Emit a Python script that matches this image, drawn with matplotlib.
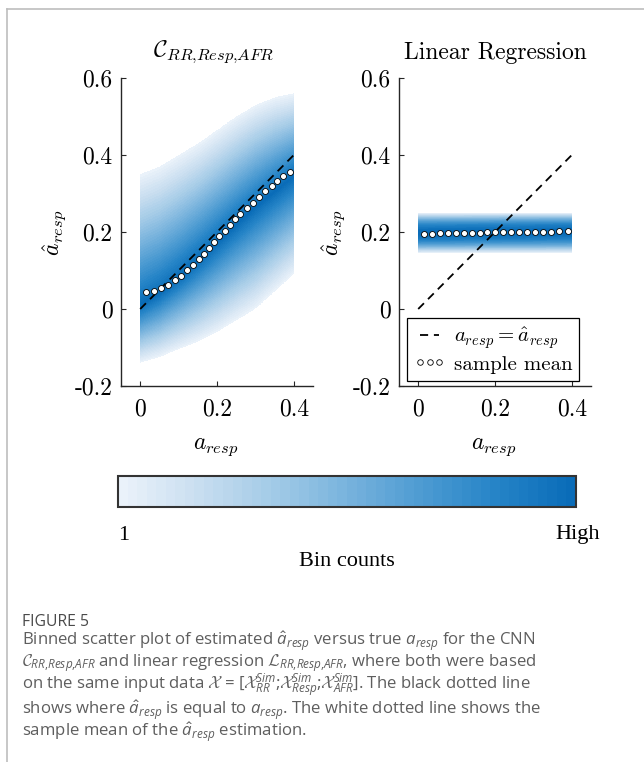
import numpy as np
import matplotlib.pyplot as plt
from matplotlib.colors import LinearSegmentedColormap, LogNorm
from matplotlib.cm import ScalarMappable
from matplotlib.lines import Line2D

plt.rcParams['mathtext.fontset'] = 'custom'
plt.rcParams['mathtext.rm'] = 'Open Sans'
plt.rcParams['mathtext.it'] = 'Open Sans:italic'
plt.rcParams['mathtext.bf'] = 'Open Sans:bold'
plt.rcParams['mathtext.cal'] = 'cmsy10'

# --- sample means (white dots) ---
cnn_x = [0.015, 0.035, 0.054, 0.073, 0.091, 0.106, 0.122, 0.138, 0.152, 0.166,
         0.180, 0.193, 0.206, 0.220, 0.233, 0.248, 0.261, 0.279, 0.295, 0.310,
         0.326, 0.342, 0.357, 0.373, 0.389]
cnn_mean = [0.043, 0.048, 0.055, 0.062, 0.075, 0.087, 0.101, 0.114, 0.129, 0.143,
            0.158, 0.174, 0.190, 0.203, 0.219, 0.234, 0.248, 0.262, 0.276, 0.292,
            0.306, 0.319, 0.332, 0.345, 0.356]
lr_x = [0.016, 0.036, 0.057, 0.078, 0.099, 0.120, 0.139, 0.160, 0.180, 0.201,
        0.222, 0.241, 0.262, 0.283, 0.303, 0.324, 0.345, 0.366, 0.389]
lr_mean = [0.196, 0.196, 0.197, 0.197, 0.197, 0.198, 0.198, 0.198, 0.199, 0.199,
           0.199, 0.200, 0.200, 0.200, 0.201, 0.201, 0.201, 0.202, 0.202]

# --- binned density (ridge, visible lower / upper edge) ---
cnn_knot_x = [0.0, 0.05, 0.1, 0.15, 0.2, 0.25, 0.3, 0.35, 0.4]
cnn_ridge = [0.01, 0.04, 0.08, 0.125, 0.172, 0.22, 0.265, 0.305, 0.345]
cnn_lo = [-0.14, -0.125, -0.105, -0.085, -0.06, -0.03, 0.0, 0.045, 0.09]
cnn_hi = [0.35, 0.37, 0.40, 0.43, 0.465, 0.50, 0.53, 0.55, 0.56]
lr_knot_x = [0.0, 0.4]
lr_ridge = [0.198, 0.202]
lr_lo = [0.146, 0.146]
lr_hi = [0.25, 0.25]
cnn_shape, lr_shape = 0.92, 1.8

identity = [0.0, 0.4]
yticks = [-0.2, 0, 0.2, 0.4, 0.6]
ytick_labels = ['-0.2', '0', '0.2', '0.4', '0.6']
xticks = [0, 0.2, 0.4]
xtick_labels = ['0', '0.2', '0.4']

cmap = LinearSegmentedColormap.from_list(
    'bins', ['#eaf2fa', '#c9def0', '#a3cbe7', '#78b3dd', '#4d9bd2', '#2584c7', '#0a6cb8'], N=48)
peak = 4000.0
norm = LogNorm(vmin=1, vmax=peak)


def density(knot_x, ridge, lo, hi, shape):
    xs = np.linspace(0, 0.4, 240)
    ys = np.linspace(-0.2, 0.6, 900)
    X, Y = np.meshgrid(xs, ys)
    r = np.interp(X, knot_x, ridge)
    d = Y - r
    edge = np.where(d > 0, np.interp(X, knot_x, hi) - r, r - np.interp(X, knot_x, lo))
    c = peak ** (1 - (np.abs(d) / edge) ** shape)
    return np.ma.masked_less(c, 1.0)


fig = plt.figure(figsize=(6.44, 7.62), dpi=100)
W, H = 644.0, 762.0

panels = [
    (121, cnn_knot_x, cnn_ridge, cnn_lo, cnn_hi, cnn_shape, cnn_x, cnn_mean),
    (399, lr_knot_x, lr_ridge, lr_lo, lr_hi, lr_shape, lr_x, lr_mean),
]
axes = []
for left, kx, rd, lo, hi, sh, mx, mm in panels:
    ax = fig.add_axes([left / W, 1 - 386 / H, 192 / W, 308 / H])
    ax.imshow(density(kx, rd, lo, hi, sh), extent=[0, 0.4, -0.2, 0.6], origin='lower',
              aspect='auto', cmap=cmap, norm=norm, interpolation='nearest', zorder=1)
    ax.plot(identity, identity, color='black', lw=1.3, dashes=(4.5, 3.2), zorder=2)
    ax.plot(mx, mm, 'o', ms=4.3, mfc='white', mec='black', mew=0.6, ls='none', zorder=3)
    ax.set_xlim(-0.05, 0.45)
    ax.set_ylim(-0.2, 0.6)
    ax.set_xticks(xticks)
    ax.set_xticklabels(xtick_labels, fontfamily='cmr10', fontsize=17)
    ax.set_yticks(yticks)
    ax.set_yticklabels(ytick_labels, fontfamily='cmr10', fontsize=17)
    ax.tick_params(direction='in', length=3.5, width=0.8, color='#262626')
    ax.tick_params(axis='y', pad=6)
    ax.tick_params(axis='x', pad=9)
    for s in ['top', 'right']:
        ax.spines[s].set_visible(False)
    for s in ['left', 'bottom']:
        ax.spines[s].set_color('#262626')
        ax.spines[s].set_linewidth(1.0)
    axes.append(ax)

# titles and labels
fig.text(214 / W, 1 - 52 / H, r'$\mathcal{C}_{RR{,}Resp{,}AFR}$', math_fontfamily='cm',
         fontsize=17, ha='center', va='center')
fig.text(495 / W, 1 - 53 / H, 'Linear Regression', fontfamily='cmr10',
         fontsize=17, ha='center', va='center')
for xc in [216, 494]:
    fig.text(xc / W, 1 - 446 / H, r'$a_{resp}$', math_fontfamily='cm',
             fontsize=17, ha='center', va='center')
for xr in [69, 348]:
    fig.text(xr / W, 1 - 233 / H, r'$\hat{a}_{resp}$', math_fontfamily='cm',
             fontsize=17, ha='right', va='center', rotation=90)

# legend
handles = [Line2D([], [], color='black', lw=1.3, dashes=(4.5, 3.2)),
           Line2D([], [], marker='o', ms=4.0, mfc='white', mec='black', mew=0.6, ls='none')]
leg = axes[1].legend(handles, [r'$a_{resp} = \hat{a}_{resp}$', 'sample mean'],
                     loc='lower right', bbox_to_anchor=(0.94, 0.016), borderaxespad=0,
                     numpoints=3, handlelength=1.5, handletextpad=0.4, borderpad=0.35,
                     labelspacing=0.2, fancybox=False, framealpha=1,
                     edgecolor='black', prop={'family': 'cmr10', 'size': 15})
leg.get_frame().set_linewidth(0.9)
for t in leg.get_texts():
    t.set_math_fontfamily('cm')

# colorbar
cax = fig.add_axes([118 / W, 1 - 507 / H, 458 / W, 31 / H])
cb = fig.colorbar(ScalarMappable(norm=LogNorm(1, 1000), cmap=cmap), cax=cax,
                  orientation='horizontal')
cb.set_ticks([])
cb.minorticks_off()
cb.outline.set_linewidth(1.5)
cb.outline.set_edgecolor('#333333')
fig.text(118 / W, 1 - 535 / H, '1', fontfamily='Liberation Serif', fontsize=16,
         ha='left', va='center')
fig.text(600 / W, 1 - 535 / H, 'High', fontfamily='Liberation Serif', fontsize=16,
         ha='right', va='center')
fig.text(347 / W, 1 - 561 / H, 'Bin counts', fontfamily='Liberation Serif', fontsize=16,
         ha='center', va='center')

# caption
cap = dict(fontfamily='Open Sans', fontsize=12.1, color='#5e5e5e', ha='left', va='baseline')
fig.text(22 / W, 1 - 626 / H, 'FIGURE 5', fontfamily='Open Sans', fontsize=11.3,
         color='#4a4a4a', ha='left', va='baseline')
lines = [
    r'Binned scatter plot of estimated $\hat{a}_{resp}$ versus true $a_{resp}$ for the CNN',
    r'$\mathcal{C}_{RR{,}Resp{,}AFR}$ and linear regression $\mathcal{L}_{RR{,}Resp{,}AFR}$, where both were based',
    r'on the same input data $\mathcal{X}$ = [$\mathcal{X}^{Sim}_{RR}$;$\mathcal{X}^{Sim}_{Resp}$;$\mathcal{X}^{Sim}_{AFR}$]. The black dotted line',
    r'shows where $\hat{a}_{resp}$ is equal to $a_{resp}$. The white dotted line shows the',
    r'sample mean of the $\hat{a}_{resp}$ estimation.',
]
baselines = [645, 666, 689, 714, 736]
for s, yb in zip(lines, baselines):
    fig.text(22 / W, 1 - yb / H, s, **cap)

# page frame
fig.add_artist(Line2D([7 / W, 1], [1 - 9 / H, 1 - 9 / H], transform=fig.transFigure,
                      color='#bdbdbd', lw=1.2))
fig.add_artist(Line2D([7 / W, 7 / W], [0, 1 - 9 / H], transform=fig.transFigure,
                      color='#bdbdbd', lw=1.2))

fig.savefig('out.png', dpi=100)
